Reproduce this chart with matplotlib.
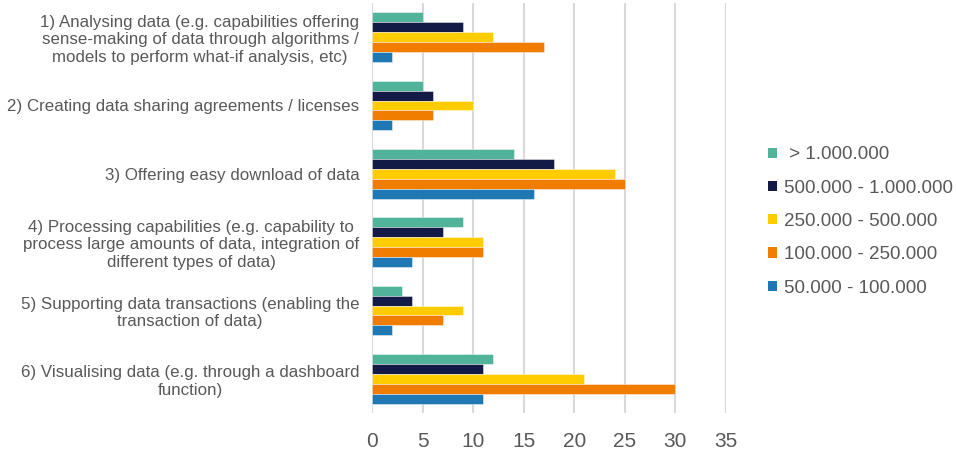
import matplotlib
matplotlib.use("Agg")
import matplotlib.pyplot as plt
import numpy as np
from matplotlib.patches import Patch

categories = [
    "1) Analysing data (e.g. capabilities offering\nsense-making of data through algorithms /\nmodels to perform what-if analysis, etc)",
    "2) Creating data sharing agreements / licenses",
    "3) Offering easy download of data",
    "4) Processing capabilities (e.g. capability to\nprocess large amounts of data, integration of\ndifferent types of data)",
    "5) Supporting data transactions (enabling the\ntransaction of data)",
    "6) Visualising data (e.g. through a dashboard\nfunction)",
]
series_names = [" > 1.000.000", "500.000 - 1.000.000", "250.000 - 500.000",
                "100.000 - 250.000", "50.000 - 100.000"]
over_1m = [5, 5, 14, 9, 3, 12]
s500k_1m = [9, 6, 18, 7, 4, 11]
s250k_500k = [12, 10, 24, 11, 9, 21]
s100k_250k = [17, 6, 25, 11, 7, 30]
s50k_100k = [2, 2, 16, 4, 2, 11]
series = [over_1m, s500k_1m, s250k_500k, s100k_250k, s50k_100k]
colors = ["#52B39B", "#131A45", "#FFCC00", "#F07D00", "#1F78B4"]
xticks = [0, 5, 10, 15, 20, 25, 30, 35]

plt.rcParams['font.family'] = ['Liberation Sans', 'DejaVu Sans']
txt = "#595959"

fig = plt.figure(figsize=(9.56, 4.5), dpi=100)
ax = fig.add_axes([372/956, 1-413/450, (726-372)/956, 410/450])

n = len(categories)
y = np.arange(n)
bh = 0.146
for i, (vals, c) in enumerate(zip(series, colors)):
    offs = (i - 2) * bh
    ax.barh(y + offs, vals, height=bh, color=c, edgecolor=(1, 1, 1, 0.5),
            linewidth=0.6, zorder=3)

ax.set_ylim(n - 0.5, -0.5)
ax.set_xlim(0, 35)
ax.set_xticks(xticks)
ax.set_xticklabels([str(t) for t in xticks], fontsize=15, color=txt)
ax.set_yticks(y)
ax.set_yticklabels(categories, fontsize=12.2, color=txt, multialignment='center')
ax.tick_params(axis='both', length=0)
ax.tick_params(axis='y', pad=9)
ax.tick_params(axis='x', pad=14)
ax.grid(axis='x', color="#d9d9d9", linewidth=1.5, zorder=0)
for s in ax.spines.values():
    s.set_visible(False)

handles = [Patch(facecolor=c, edgecolor='none') for c in colors]
fig.legend(handles, series_names, loc='center left', bbox_to_anchor=(0.786, 0.508),
           frameon=False, fontsize=13.5, labelcolor=txt, handlelength=0.45,
           handleheight=0.45, handletextpad=0.4, labelspacing=0.87)

fig.savefig("out.png", dpi=100)
